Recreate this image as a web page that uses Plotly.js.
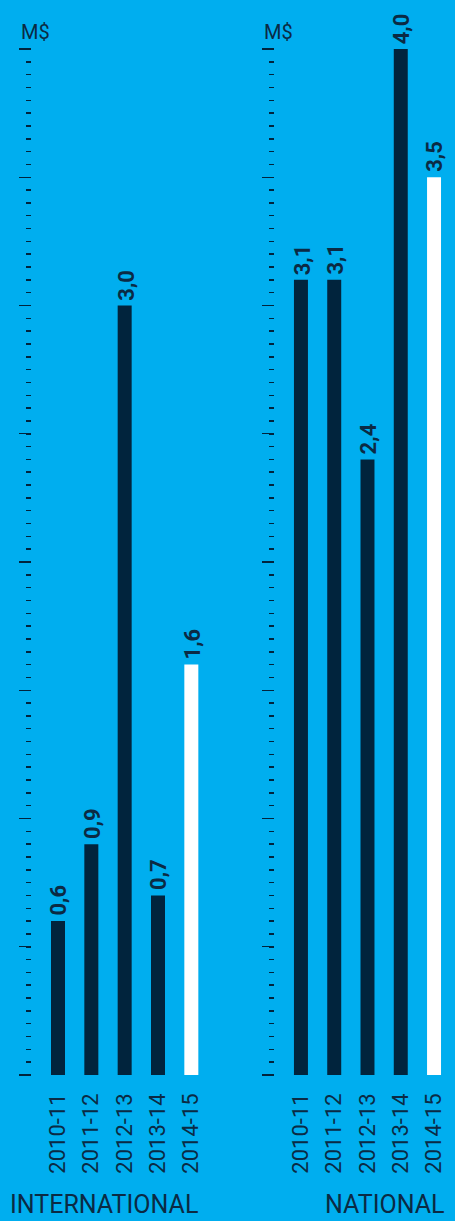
<!DOCTYPE html>
<html>
<head>
<meta charset="utf-8">
<script src="https://cdn.plot.ly/plotly-3.0.1.min.js"></script>
<style>
html,body{margin:0;padding:0;background:#00AEEF;}
#chart{width:455px;height:1221px;}
</style>
</head>
<body>
<div id="chart"></div>
<script>
const years = ["2010-11", "2011-12", "2012-13", "2013-14", "2014-15"];
const international = [0.6, 0.9, 3.0, 0.7, 1.6];
const national = [3.1, 3.1, 2.4, 4.0, 3.5];
const panelTitles = ["INTERNATIONAL", "NATIONAL"];
const unitLabel = "M$";

const NAVY = "#01243D";
const TEXT = "#0B2A44";
const BG = "#00AEEF";
const barColors = years.map((y, i) => i === years.length - 1 ? "#FFFFFF" : NAVY);

function barTrace(vals, xa, ya) {
  return {
    type: "bar",
    x: years,
    y: vals,
    xaxis: xa,
    yaxis: ya,
    width: 0.42,
    marker: {color: barColors, line: {width: 0}},
    hoverinfo: "skip"
  };
}

function fmt(v) { return v.toFixed(1).replace(".", ","); }

function valueLabels(vals, xa, ya) {
  return vals.map((v, i) => ({
    text: fmt(v),
    x: years[i], y: v, xref: xa, yref: ya,
    xanchor: "center", yanchor: "bottom",
    textangle: -90, showarrow: false, yshift: 4, xshift: 1,
    borderpad: 0,
    font: {family: "Roboto", size: 22, color: TEXT, weight: 700}
  }));
}

const W = 455;
const yAxisCommon = {
  range: [0, 4],
  showticklabels: false,
  showgrid: false,
  zeroline: false,
  showline: false,
  ticks: "outside",
  tickvals: [0, 0.5, 1, 1.5, 2, 2.5, 3, 3.5, 4],
  ticklen: 12,
  tickwidth: 1.3,
  tickcolor: NAVY,
  minor: {dtick: 0.05, ticks: "outside", ticklen: 5, tickwidth: 1.5, tickcolor: NAVY, showgrid: false},
  fixedrange: true
};
const xAxisCommon = {
  type: "category",
  showgrid: false,
  zeroline: false,
  showline: false,
  ticks: "",
  tickangle: -90,
  ticklabelstandoff: 13,
  tickfont: {family: "Roboto", size: 22, color: TEXT},
  fixedrange: true
};

const layout = {
  width: 455,
  height: 1221,
  paper_bgcolor: BG,
  plot_bgcolor: BG,
  margin: {l: 0, r: 0, t: 49, b: 146, pad: 0},
  showlegend: false,
  xaxis: Object.assign({}, xAxisCommon, {domain: [32 / W, 210 / W], range: [-0.78, 4.56], anchor: "y"}),
  yaxis: Object.assign({}, yAxisCommon, {anchor: "x", domain: [0, 1]}),
  xaxis2: Object.assign({}, xAxisCommon, {domain: [275 / W, 452 / W], range: [-0.78, 4.54], anchor: "y2"}),
  yaxis2: Object.assign({}, yAxisCommon, {anchor: "x2", domain: [0, 1]}),
  annotations: [
    {text: unitLabel, xref: "paper", yref: "paper", x: 19 / W, y: 1, xanchor: "left", yanchor: "bottom", yshift: 3, showarrow: false,
     font: {family: "Roboto", size: 20, color: TEXT}},
    {text: unitLabel, xref: "paper", yref: "paper", x: 262 / W, y: 1, xanchor: "left", yanchor: "bottom", yshift: 3, showarrow: false,
     font: {family: "Roboto", size: 20, color: TEXT}},
    {text: panelTitles[0], xref: "paper", yref: "paper", x: 9 / W, y: 0, xanchor: "left", yanchor: "bottom", yshift: -145, borderpad: 0, showarrow: false,
     font: {family: "Roboto", size: 25, color: TEXT}},
    {text: panelTitles[1], xref: "paper", yref: "paper", x: 446 / W, y: 0, xanchor: "right", yanchor: "bottom", yshift: -145, borderpad: 0, showarrow: false,
     font: {family: "Roboto", size: 25, color: TEXT}}
  ].concat(valueLabels(international, "x", "y"), valueLabels(national, "x2", "y2"))
};

Plotly.newPlot("chart", [barTrace(international, "x", "y"), barTrace(national, "x2", "y2")], layout, {displayModeBar: false, staticPlot: true});
</script>
</body>
</html>
